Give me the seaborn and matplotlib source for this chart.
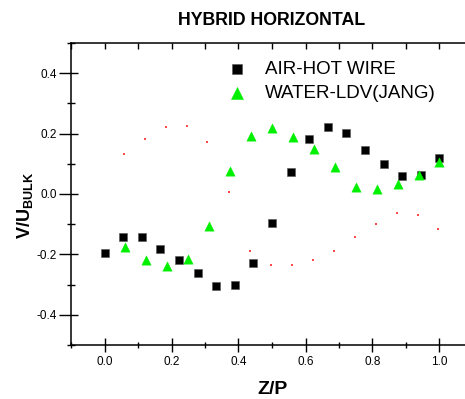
import matplotlib
matplotlib.use("Agg")
import matplotlib.pyplot as plt
from matplotlib.path import Path
import seaborn as sns
import pandas as pd

# ---- data ----
air_z = [0.0, 0.056, 0.111, 0.167, 0.222, 0.278, 0.333, 0.389, 0.444, 0.5,
         0.556, 0.611, 0.667, 0.722, 0.778, 0.833, 0.889, 0.944, 1.0]
air_v = [-0.195, -0.143, -0.142, -0.183, -0.219, -0.262, -0.305, -0.300, -0.229,
         -0.095, 0.072, 0.183, 0.223, 0.201, 0.146, 0.098, 0.060, 0.063, 0.118]

water_z = [0.0625, 0.125, 0.1875, 0.25, 0.3125, 0.375, 0.4375, 0.5,
           0.5625, 0.625, 0.6875, 0.75, 0.8125, 0.875, 0.9375, 1.0]
water_v = [-0.174, -0.218, -0.238, -0.216, -0.106, 0.075, 0.193, 0.217,
           0.189, 0.150, 0.090, 0.024, 0.018, 0.033, 0.063, 0.106]

dot_z = [0.058, 0.121, 0.184, 0.247, 0.307, 0.371, 0.433, 0.498,
         0.560, 0.623, 0.684, 0.747, 0.811, 0.874, 0.937, 0.997]
dot_v = [0.131, 0.183, 0.221, 0.225, 0.173, 0.006, -0.188, -0.234,
         -0.236, -0.219, -0.188, -0.144, -0.098, -0.063, -0.068, -0.115]

x_ticks = [0.0, 0.2, 0.4, 0.6, 0.8, 1.0]
y_ticks = [-0.4, -0.2, 0.0, 0.2, 0.4]
title = "HYBRID HORIZONTAL"
xlabel = "Z/P"
air_label = "AIR-HOT WIRE"
water_label = "WATER-LDV(JANG)"

sns.set_style("ticks")
plt.rcParams["font.family"] = ["Liberation Sans", "DejaVu Sans"]
plt.rcParams["mathtext.fontset"] = "custom"
plt.rcParams["mathtext.bf"] = "Liberation Sans:bold"
plt.rcParams["mathtext.rm"] = "Liberation Sans"
for k in ["text.color", "axes.labelcolor", "xtick.color", "ytick.color",
          "axes.edgecolor"]:
    plt.rcParams[k] = "black"

fig = plt.figure(figsize=(4.65, 3.99), dpi=100)
W, H = 465, 399
ax = fig.add_axes([71 / W, (H - 345) / H, (473 - 71) / W, (345 - 43) / H])

df_air = pd.DataFrame({"z": air_z, "v": air_v})
df_water = pd.DataFrame({"z": water_z, "v": water_v})
df_dot = pd.DataFrame({"z": dot_z, "v": dot_v})

sns.scatterplot(data=df_dot, x="z", y="v", ax=ax, marker="s", s=2,
                color="#ff4a4a", linewidth=0, legend=False, zorder=2)
sns.scatterplot(data=df_air, x="z", y="v", ax=ax, marker="s", s=26,
                color="black", edgecolor="#555555", linewidth=0.4,
                label=air_label, zorder=3)
sns.scatterplot(data=df_water, x="z", y="v", ax=ax, marker="^", s=45,
                color="#00f000", edgecolor="#00f000", linewidth=0.3,
                label=water_label, zorder=4)

ax.set_xlim(-0.1, 1.1)
ax.set_ylim(-0.5, 0.5)
ax.set_xticks(x_ticks)
ax.set_xticklabels([f"{t:.1f}" for t in x_ticks])
ax.set_yticks(y_ticks)
ax.set_yticklabels([f"{t:.1f}" for t in y_ticks])
ax.set_xticks([-0.1, 0.1, 0.3, 0.5, 0.7, 0.9], minor=True)
ax.set_yticks([-0.5, -0.3, -0.1, 0.1, 0.3, 0.5], minor=True)

for s in ax.spines.values():
    s.set_linewidth(1.1)
    s.set_color("black")
    s.set_visible(True)

ax.tick_params(axis="x", which="major", direction="inout", length=9.5, width=1,
               labelsize=8.5, pad=3.5, top=True)
ax.tick_params(axis="x", which="minor", direction="inout", length=4.8, width=1,
               top=True)
ax.tick_params(axis="y", which="major", direction="out", length=8.9, width=1,
               labelsize=8.5, pad=1.5)
ax.tick_params(axis="y", which="minor", direction="inout", length=6, width=1)

# top ticks point inward only
for tk in ax.xaxis.get_major_ticks() + ax.xaxis.get_minor_ticks():
    tk.tick2line.set_marker(3)  # TICKDOWN
    tk.tick2line.set_markersize(4.5)
# left major ticks: long outside, shorter inside
ypath = Path([(-12.4, 0), (6.6, 0)], [Path.MOVETO, Path.LINETO])
for tk in ax.yaxis.get_major_ticks():
    tk.tick1line.set_marker(ypath)
    tk.tick1line.set_markersize(2 * 12.4 * 0.72)

ax.set_title(title, fontsize=12.8, fontweight="bold", pad=13)
ax.set_xlabel(xlabel, fontsize=14, fontweight="bold", labelpad=9)
ax.set_ylabel(r"$\mathbf{V/U_{BULK}}$", fontsize=13)
ax.yaxis.set_label_coords(-36 / (473 - 71), (345 - 205) / (345 - 43))

leg = ax.legend(loc="upper left", bbox_to_anchor=(227.6 / W, (H - 61) / H),
                bbox_transform=fig.transFigure, frameon=False,
                fontsize=13.5, handlelength=1.0, handletextpad=0.99,
                borderpad=0, borderaxespad=0, labelspacing=0.35,
                markerscale=1.3)

fig.savefig("out.png", dpi=100)
